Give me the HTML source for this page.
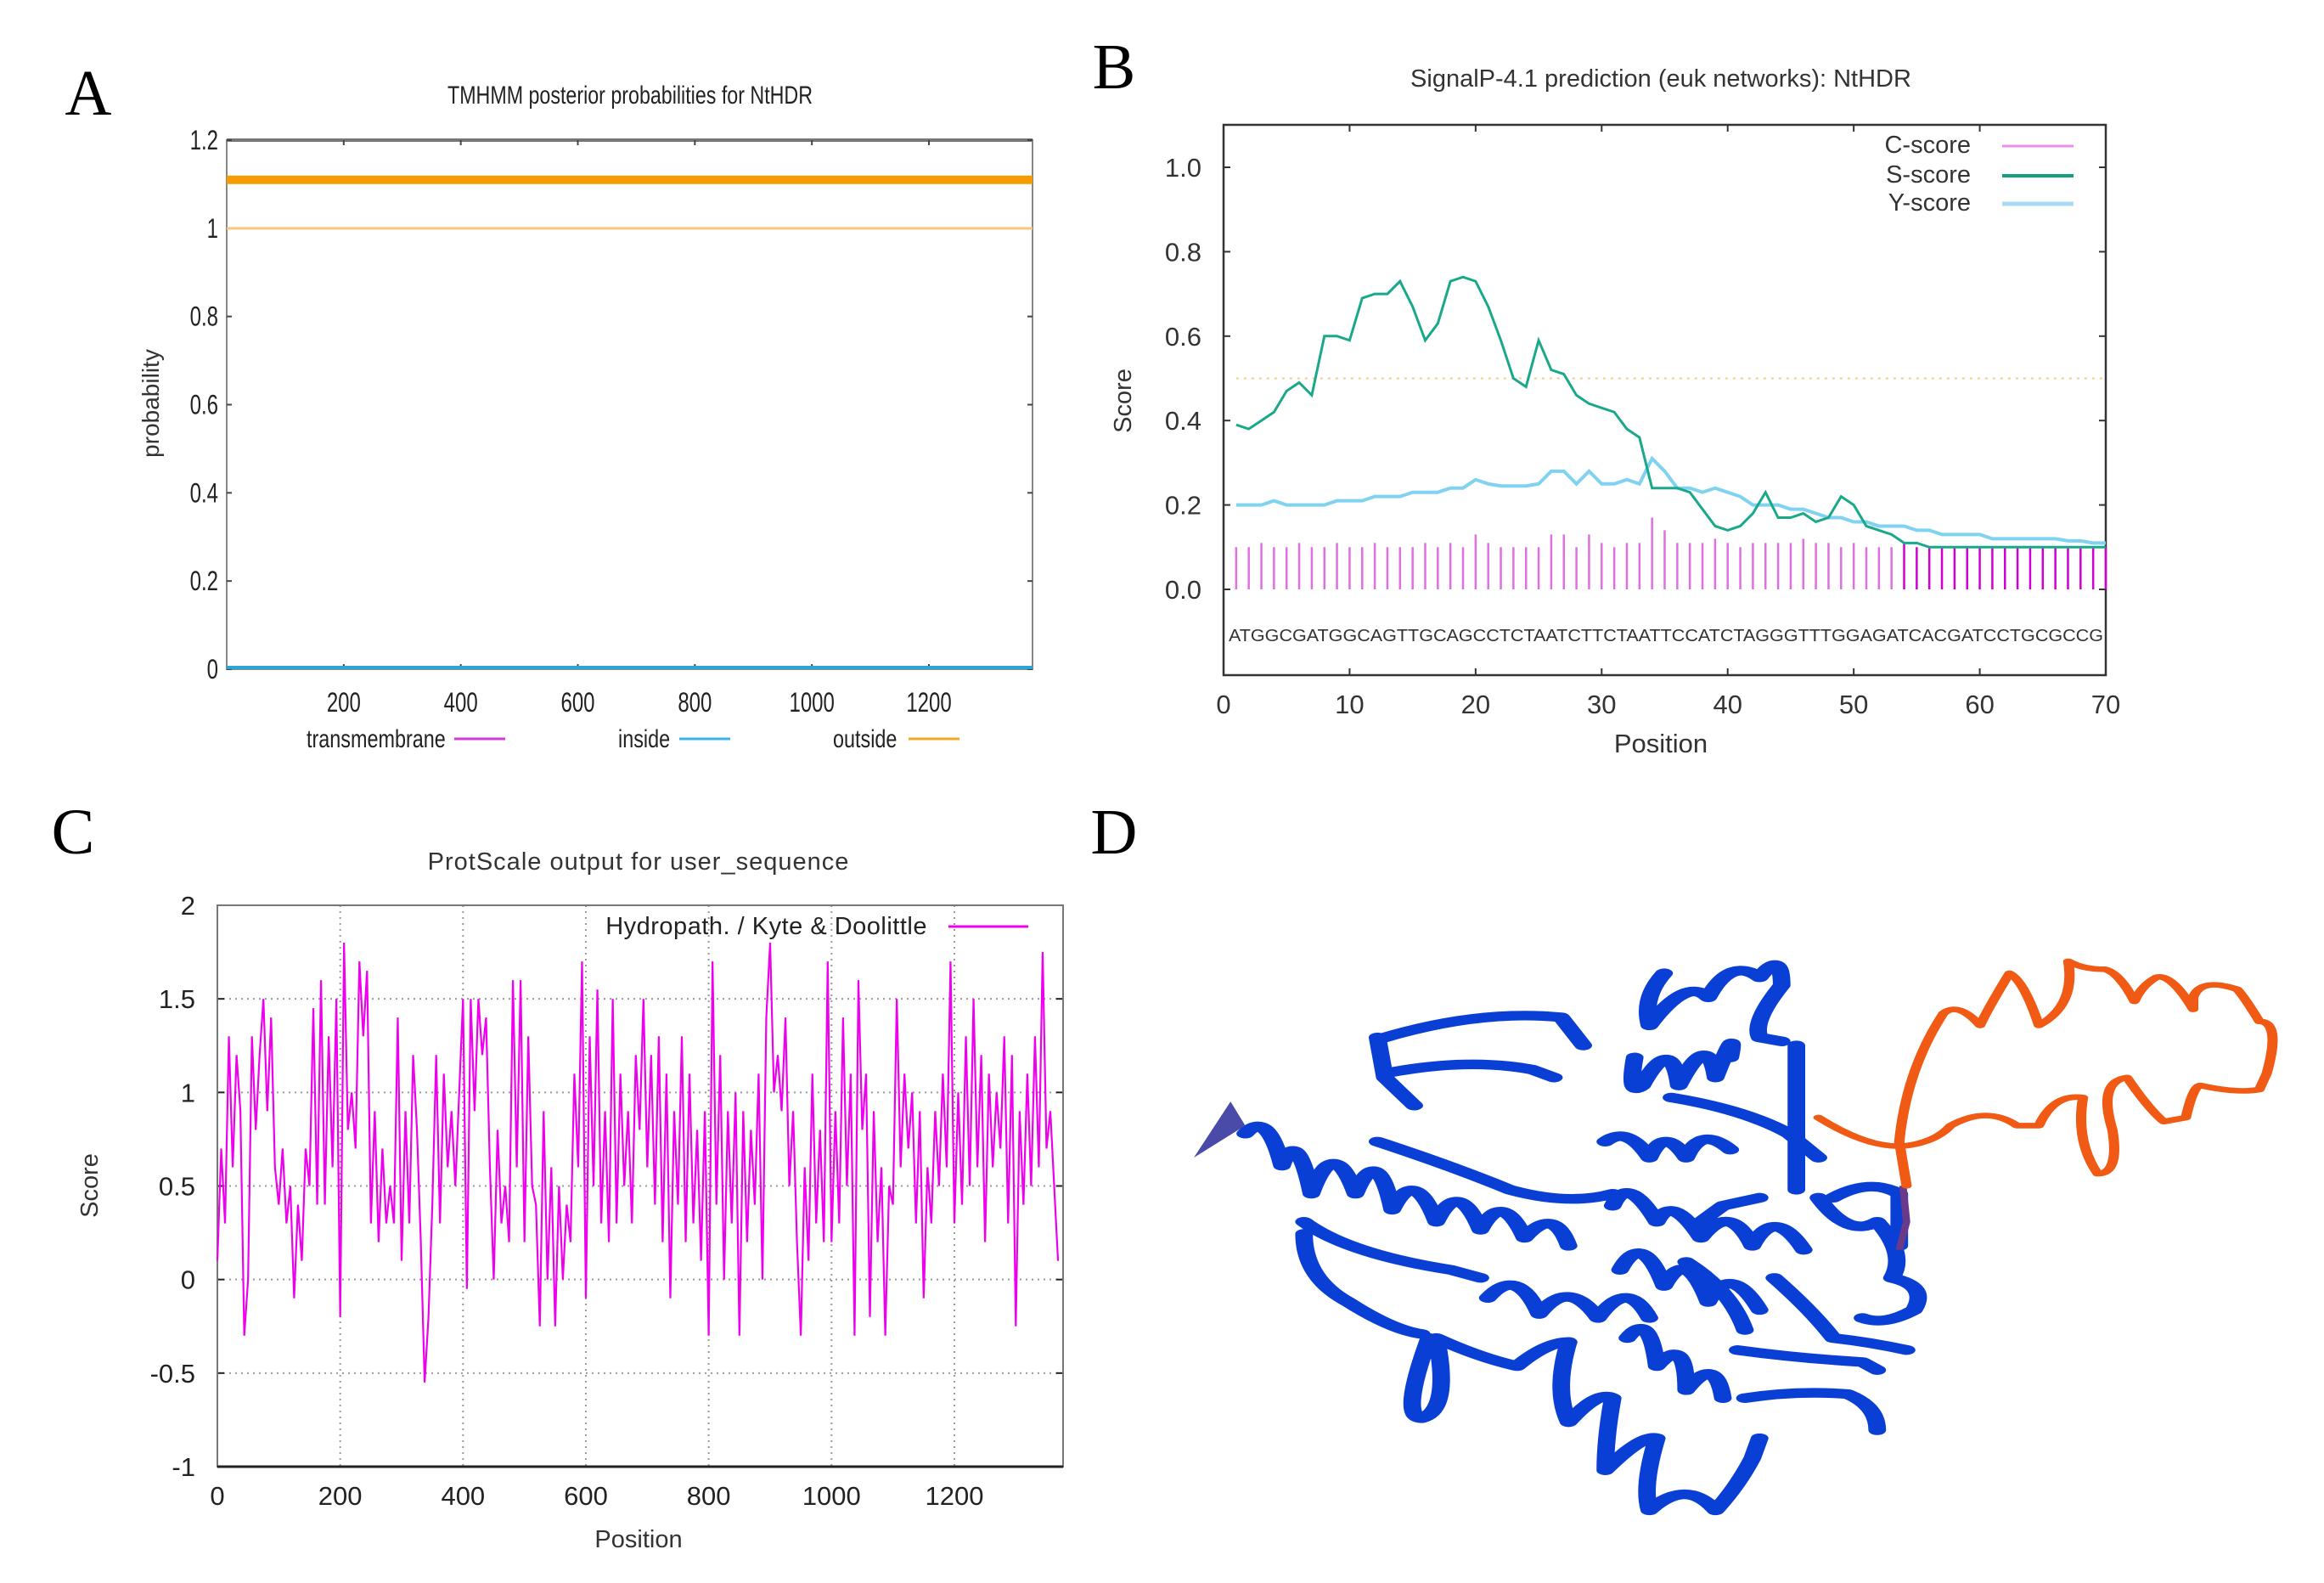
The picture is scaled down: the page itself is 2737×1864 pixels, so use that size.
<!DOCTYPE html>
<html><head><meta charset="utf-8"><style>
html,body{margin:0;padding:0;background:#fff}
svg{display:block}
text{font-family:"Liberation Sans",sans-serif}
</style></head><body>
<svg id="fig" width="2737" height="1864" viewBox="0 0 2737 1864" xmlns="http://www.w3.org/2000/svg">
<rect width="2737" height="1864" fill="#fff"/>
<text x="104" y="135" font-size="76" text-anchor="middle" style="font-family:'Liberation Serif',serif">A</text>
<text x="1312" y="104" font-size="76" text-anchor="middle" style="font-family:'Liberation Serif',serif">B</text>
<text x="86" y="1005" font-size="76" text-anchor="middle" style="font-family:'Liberation Serif',serif">C</text>
<text x="1312" y="1005" font-size="76" text-anchor="middle" style="font-family:'Liberation Serif',serif">D</text>
<g id="pa"></g>
<g id="pb"></g>
<g id="pc"></g>
<svg x="1380" y="1080" width="1357" height="740" viewBox="0 0 1568 1568" preserveAspectRatio="none">
<g fill="none" stroke="#0a3fd6" stroke-width="24" stroke-linejoin="round" stroke-linecap="round">
<path d="M290,300 Q420,230 530,250 L560,320"/>
<path d="M290,390 Q400,350 490,380 L520,400"/>
<path d="M280,300 L290,400 L330,470"/>
<path d="M100,540 Q130,480 150,620 Q170,520 190,690 Q220,540 250,690 Q280,560 300,730 Q330,620 360,760 Q390,650 420,780 Q450,680 480,800 Q520,720 540,820"/>
<path d="M180,760 Q240,840 380,880 L420,900"/>
<path d="M180,790 Q180,900 240,960 Q300,1030 340,1040"/>
<path d="M280,560 Q380,620 460,680 Q540,720 600,690"/>
<path d="M350,1050 Q310,1250 340,1250 Q380,1230 360,1050 Q420,1100 470,1120 Q510,1060 540,1060"/>
<path d="M540,1060 Q520,1180 540,1260 Q580,1180 600,1200 Q590,1300 590,1380 Q640,1290 660,1300 Q640,1420 650,1480 Q700,1400 740,1480 Q770,1420 790,1350 L800,1300"/>
<path d="M630,350 Q620,450 640,420 Q680,290 690,420 Q730,280 740,400 Q770,260 760,350"/>
<path d="M670,140 Q640,200 650,270 Q700,150 730,200 Q760,100 800,150 Q830,80 830,170 Q790,260 800,300 L830,310"/>
<path d="M850,320 L850,680"/>
<path d="M680,450 Q780,480 840,540 L880,600"/>
<path d="M590,560 Q620,520 650,600 Q670,520 700,600 Q720,520 760,580"/>
<path d="M600,720 Q620,640 660,760 Q680,690 720,800 Q760,710 790,820 Q820,720 860,830"/>
<path d="M610,880 Q640,780 670,920 Q700,820 730,960 Q760,860 800,980"/>
<path d="M430,950 Q470,870 500,990 Q540,900 580,1000 Q620,900 650,1000"/>
<path d="M620,1050 Q650,980 660,1120 Q700,1040 700,1180 Q740,1090 750,1200"/>
<path d="M770,1080 Q850,1100 940,1110 L960,1130"/>
<path d="M780,1200 Q850,1180 920,1190 Q960,1220 960,1280"/>
<path d="M880,700 Q920,800 960,760 Q1000,840 980,900 Q1030,920 1010,980 Q970,1020 940,1000"/>
<path d="M900,700 Q950,650 990,690 L990,820"/>
<path d="M820,900 Q870,980 900,1050 Q950,1060 1000,1080"/>
<path d="M720,760 L750,720 L800,700"/>
<path d="M700,860 Q760,930 780,1030"/>
</g>
<path d="M30,600 L80,460 L100,520 Z" fill="#4a4aa8"/>
<path d="M995,670 L1000,760 L990,830" fill="none" stroke="#6a3a8a" stroke-width="10"/>
<g fill="none" stroke="#f05a14" stroke-width="14" stroke-linejoin="round" stroke-linecap="round">
<path d="M880,500 Q950,580 1000,570 Q1040,560 1060,520 Q1110,470 1150,520 L1180,520 Q1200,440 1240,450 Q1230,560 1260,640 Q1290,640 1280,530 Q1260,410 1300,400 Q1330,480 1350,510 L1380,500 Q1390,420 1400,420 Q1450,440 1480,430 L1490,390 Q1510,260 1480,260 Q1460,200 1450,180 Q1400,150 1390,200 L1390,230 Q1360,140 1340,150 Q1320,170 1310,210 Q1290,140 1270,130 Q1240,130 1220,110 Q1230,220 1180,270 Q1160,160 1140,140 Q1110,230 1100,270 Q1070,210 1050,240 Q1000,380 990,560 L1000,670"/>
</g>
</svg>
<script>
const aYTicks = [0, 0.2, 0.4, 0.6, 0.8, 1, 1.2];
const aYTickLabels = ["0", "0.2", "0.4", "0.6", "0.8", "1", "1.2"];
const aXTicks = [200, 400, 600, 800, 1000, 1200];
const aLegendNames = ["transmembrane", "inside", "outside"];
const aOutsideThick = 1.11;
const aOutsideProb = 1.0;
const aInsideProb = 0.0;
const bPositions = [1,2,3,4,5,6,7,8,9,10,11,12,13,14,15,16,17,18,19,20,21,22,23,24,25,26,27,28,29,30,31,32,33,34,35,36,37,38,39,40,41,42,43,44,45,46,47,48,49,50,51,52,53,54,55,56,57,58,59,60,61,62,63,64,65,66,67,68,69,70];
const bSScore = [0.39,0.38,0.40,0.42,0.47,0.49,0.46,0.60,0.60,0.59,0.69,0.70,0.70,0.73,0.67,0.59,0.63,0.73,0.74,0.73,0.67,0.59,0.50,0.48,0.59,0.52,0.51,0.46,0.44,0.43,0.42,0.38,0.36,0.24,0.24,0.24,0.23,0.19,0.15,0.14,0.15,0.18,0.23,0.17,0.17,0.18,0.16,0.17,0.22,0.20,0.15,0.14,0.13,0.11,0.11,0.10,0.10,0.10,0.10,0.10,0.10,0.10,0.10,0.10,0.10,0.10,0.10,0.10,0.10,0.10];
const bYScore = [0.20,0.20,0.20,0.21,0.20,0.20,0.20,0.20,0.21,0.21,0.21,0.22,0.22,0.22,0.23,0.23,0.23,0.24,0.24,0.26,0.25,0.245,0.245,0.245,0.25,0.28,0.28,0.25,0.28,0.25,0.25,0.26,0.25,0.31,0.28,0.24,0.24,0.23,0.24,0.23,0.22,0.20,0.20,0.20,0.19,0.19,0.18,0.17,0.17,0.16,0.16,0.15,0.15,0.15,0.14,0.14,0.13,0.13,0.13,0.13,0.12,0.12,0.12,0.12,0.12,0.12,0.115,0.115,0.11,0.11];
const bCScore = [0.10,0.10,0.11,0.10,0.10,0.11,0.10,0.10,0.11,0.10,0.10,0.11,0.10,0.10,0.10,0.11,0.10,0.11,0.10,0.13,0.11,0.10,0.10,0.10,0.10,0.13,0.13,0.10,0.13,0.11,0.10,0.11,0.11,0.17,0.14,0.11,0.11,0.11,0.12,0.11,0.10,0.11,0.11,0.11,0.11,0.12,0.11,0.11,0.10,0.11,0.10,0.10,0.10,0.11,0.10,0.10,0.10,0.10,0.10,0.10,0.10,0.10,0.10,0.10,0.10,0.10,0.10,0.10,0.10,0.10];
const bYTicks = [0.0, 0.2, 0.4, 0.6, 0.8, 1.0];
const bYTickLabels = ["0.0", "0.2", "0.4", "0.6", "0.8", "1.0"];
const bXTicks = [0, 10, 20, 30, 40, 50, 60, 70];
const bLegendNames = ["C-score", "S-score", "Y-score"];
const bThreshold = 0.5;
const bSequence = "ATGGCGATGGCAGTTGCAGCCTCTAATCTTCTAATTCCATCTAGGGTTTGGAGATCACGATCCTGCGCCG";
const cStep = 6.25;
const cScores = [
0.1,0.7,0.3,1.3,0.6,1.2,0.9,-0.3,
0.0,1.3,0.8,1.2,1.5,0.9,1.4,0.6,
0.4,0.7,0.3,0.5,-0.1,0.4,0.1,0.7,
0.5,1.45,0.4,1.6,0.4,1.3,0.6,1.5,
-0.2,1.8,0.8,1.0,0.7,1.7,1.3,1.65,
0.3,0.9,0.2,0.7,0.3,0.5,0.3,1.4,
0.1,0.9,0.3,1.2,0.8,0.2,-0.55,-0.2,
0.4,1.2,0.3,1.1,0.6,0.9,0.5,1.0,
1.5,-0.05,1.5,0.9,1.5,1.2,1.4,0.6,
0.0,0.8,0.3,0.5,0.2,1.6,0.6,1.6,
0.2,1.3,0.5,0.4,-0.25,0.9,0.0,0.6,
-0.25,0.5,0.0,0.4,0.2,1.1,0.6,1.7,
-0.1,1.3,0.5,1.55,0.3,0.9,0.2,1.5,
0.3,1.1,0.5,0.9,0.3,1.2,0.8,1.5,
0.6,1.2,0.4,1.3,0.2,1.1,-0.1,0.9,
0.4,1.3,0.2,1.1,0.3,0.8,0.1,0.9,
-0.3,1.7,0.4,1.2,0.0,0.9,0.3,1.0,
-0.3,0.9,0.2,0.8,0.4,1.1,0.0,1.4,
1.8,1.0,1.2,0.9,1.4,0.5,0.9,0.2,
-0.3,0.6,0.1,1.1,0.3,0.8,0.2,1.7,
0.2,0.9,0.3,1.4,0.5,1.1,-0.3,1.6,
0.8,1.1,-0.2,0.9,0.2,0.6,-0.3,0.5,
0.4,1.5,0.6,1.1,0.7,1.0,0.3,0.9,
-0.1,0.6,0.3,0.9,0.5,1.1,0.6,1.7,
0.3,1.0,0.4,1.3,0.5,1.5,0.6,1.2,
0.2,1.1,0.6,1.0,0.7,1.3,0.3,1.2,
-0.25,0.9,0.4,1.1,0.5,1.3,0.6,1.75,
0.7,0.9,0.5,0.1];
const cYTicks = [-1, -0.5, 0, 0.5, 1, 1.5, 2];
const cYTickLabels = ["-1", "-0.5", "0", "0.5", "1", "1.5", "2"];
const cXTicks = [0, 200, 400, 600, 800, 1000, 1200];
const cLegendName = "Hydropath. / Kyte & Doolittle";

const NS = "http://www.w3.org/2000/svg";
function mk(parent, tag, attrs, txt) {
  const e = document.createElementNS(NS, tag);
  for (const k in attrs) e.setAttribute(k, attrs[k]);
  if (txt !== undefined) e.textContent = txt;
  parent.appendChild(e);
  return e;
}

(function () {
  const g = document.getElementById('pa');
  const L = 267, R = 1216, T = 165, B = 788, xMax = 1377, yMax = 1.2;
  const xs = v => L + (v / xMax) * (R - L);
  const ys = v => B - (v / yMax) * (B - T);
  let t = mk(g, 'text', {x: 742, y: 122, 'font-size': 30, 'text-anchor': 'middle', fill: '#222', textLength: 430, lengthAdjust: 'spacingAndGlyphs'}, 'TMHMM posterior probabilities for NtHDR');
  
  
  let fr = mk(g, 'rect', {x: L, y: T, width: R - L, height: B - T, fill: 'none', stroke: '#888', 'stroke-width': 2});
  
  
  mk(g, 'line', {x1: L, x2: R, y1: T, y2: T, stroke: '#777', 'stroke-width': 4});
  aYTicks.forEach((v, i) => {
    mk(g, 'line', {x1: L, x2: L + 6, y1: ys(v), y2: ys(v), stroke: '#444', 'stroke-width': 2});
    mk(g, 'line', {x1: R, x2: R - 6, y1: ys(v), y2: ys(v), stroke: '#444', 'stroke-width': 2});
    const tl = mk(g, 'text', {x: L - 10, y: ys(v) + 11, 'font-size': 32, 'text-anchor': 'end', fill: '#222', transform: `translate(${(L-10)*0.25} 0) scale(0.75 1)`}, aYTickLabels[i]);
    
    
  });
  aXTicks.forEach(v => {
    mk(g, 'line', {x1: xs(v), x2: xs(v), y1: B, y2: B - 6, stroke: '#444', 'stroke-width': 2});
    mk(g, 'line', {x1: xs(v), x2: xs(v), y1: T, y2: T + 6, stroke: '#444', 'stroke-width': 2});
    const tl = mk(g, 'text', {x: xs(v), y: 838, 'font-size': 32, 'text-anchor': 'middle', fill: '#222', transform: `translate(${xs(v)*0.25} 0) scale(0.75 1)`}, String(v));
    
    
  });
  const yl = mk(g, 'text', {x: 0, y: 0, 'font-size': 28, 'text-anchor': 'middle', fill: '#333', transform: 'translate(187 475) rotate(-90)'}, 'probability');
  
  
  let l1 = mk(g, 'line', {x1: L, x2: R, y1: ys(aOutsideThick), y2: ys(aOutsideThick), stroke: '#f59c00', 'stroke-width': 10});
  
  
  let l2 = mk(g, 'line', {x1: L, x2: R, y1: ys(aOutsideProb), y2: ys(aOutsideProb), stroke: '#f9c77a', 'stroke-width': 3});
  
  
  let l3 = mk(g, 'line', {x1: L, x2: R, y1: ys(aInsideProb) - 2, y2: ys(aInsideProb) - 2, stroke: '#2aa6d6', 'stroke-width': 4});
  
  
  const legX = [[361, 535], [728, 800], [981, 1070]];
  const legC = ['#d63ad6', '#3ab4e6', '#f5a623'];
  aLegendNames.forEach((n, i) => {
    const lt = mk(g, 'text', {x: legX[i][0], y: 880, 'font-size': 30, fill: '#222', transform: `translate(${legX[i][0]*0.22} 0) scale(0.78 1)`}, n);
    
    
    mk(g, 'line', {x1: legX[i][1], x2: legX[i][1] + 60, y1: 870, y2: 870, stroke: legC[i], 'stroke-width': 3});
  });
})();

(function () {
  const g = document.getElementById('pb');
  const L = 1441, R = 2480, T = 147, B = 795, xMax = 70;
  const y0 = 694, y1 = 197;
  const xs = v => L + (v / xMax) * (R - L);
  const ys = v => y0 - v * (y0 - y1);
  const t = mk(g, 'text', {x: 1956, y: 102, 'font-size': 29, 'text-anchor': 'middle', fill: '#333'}, 'SignalP-4.1 prediction (euk networks): NtHDR');
  
  
  const fr = mk(g, 'rect', {x: L, y: T, width: R - L, height: B - T, fill: 'none', stroke: '#333', 'stroke-width': 2.5});
  
  
  bYTicks.forEach((v, i) => {
    mk(g, 'line', {x1: L, x2: L + 8, y1: ys(v), y2: ys(v), stroke: '#333', 'stroke-width': 2});
    mk(g, 'line', {x1: R, x2: R - 8, y1: ys(v), y2: ys(v), stroke: '#333', 'stroke-width': 2});
    const tl = mk(g, 'text', {x: 1415, y: ys(v) + 11, 'font-size': 31, 'text-anchor': 'end', fill: '#333'}, bYTickLabels[i]);
    
    
  });
  bXTicks.forEach(v => {
    mk(g, 'line', {x1: xs(v), x2: xs(v), y1: B, y2: B - 8, stroke: '#333', 'stroke-width': 2});
    mk(g, 'line', {x1: xs(v), x2: xs(v), y1: T, y2: T + 8, stroke: '#333', 'stroke-width': 2});
    const tl = mk(g, 'text', {x: xs(v), y: 840, 'font-size': 31, 'text-anchor': 'middle', fill: '#333'}, String(v));
    
    
  });
  const xt = mk(g, 'text', {x: 1956, y: 886, 'font-size': 31, 'text-anchor': 'middle', fill: '#333'}, 'Position');
  
  
  const yt = mk(g, 'text', {x: 0, y: 0, 'font-size': 29, 'text-anchor': 'middle', fill: '#333', transform: 'translate(1332 472) rotate(-90)'}, 'Score');
  
  
  const th = mk(g, 'line', {x1: xs(1), x2: R, y1: ys(bThreshold), y2: ys(bThreshold), stroke: '#f5c98a', 'stroke-width': 2, 'stroke-dasharray': '3 6'});
  
  
  bPositions.forEach((p, i) => {
    const b = mk(g, 'line', {x1: xs(p), x2: xs(p), y1: ys(0), y2: ys(bCScore[i]), stroke: p > 53 ? '#d000d0' : '#e070e0', 'stroke-width': 2.5});
    
    
  });
  const ptsY = bPositions.map((p, i) => xs(p) + ',' + ys(bYScore[i])).join(' ');
  const py = mk(g, 'polyline', {points: ptsY, fill: 'none', stroke: '#7fd3f0', 'stroke-width': 4});
  
  
  const ptsS = bPositions.map((p, i) => xs(p) + ',' + ys(bSScore[i])).join(' ');
  const ps = mk(g, 'polyline', {points: ptsS, fill: 'none', stroke: '#1aa88a', 'stroke-width': 3});
  
  
  const sq = mk(g, 'text', {x: 1447, y: 755, 'font-size': 20, fill: '#333', textLength: 1030, lengthAdjust: 'spacingAndGlyphs'}, bSequence);
  
  
  const legC = ['#e890e8', '#12a07e', '#a8dcf4'];
  const legW = [3, 4, 5];
  const legY = [170, 205, 238];
  bLegendNames.forEach((n, i) => {
    const lt = mk(g, 'text', {x: 2321, y: legY[i] + 10, 'font-size': 29, 'text-anchor': 'end', fill: '#333'}, n);
    
    
    mk(g, 'line', {x1: 2358, x2: 2442, y1: legY[i] + 2, y2: legY[i] + 2, stroke: legC[i], 'stroke-width': legW[i]});
  });
})();

(function () {
  const g = document.getElementById('pc');
  const L = 256, R = 1252, T = 1066, B = 1727, xMax = 1377, yMin = -1, yMax = 2;
  const xs = v => L + (v / xMax) * (R - L);
  const ys = v => B - ((v - yMin) / (yMax - yMin)) * (B - T);
  const t = mk(g, 'text', {x: 752, y: 1024, 'font-size': 29, 'text-anchor': 'middle', fill: '#333', 'letter-spacing': 1}, 'ProtScale output for user_sequence');
  
  
  cYTicks.forEach((v, i) => {
    if (v > yMin && v < yMax) mk(g, 'line', {x1: L, x2: R, y1: ys(v), y2: ys(v), stroke: '#999', 'stroke-width': 2, 'stroke-dasharray': '2 5'});
    mk(g, 'line', {x1: L, x2: L + 8, y1: ys(v), y2: ys(v), stroke: '#222', 'stroke-width': 2});
    mk(g, 'line', {x1: R, x2: R - 8, y1: ys(v), y2: ys(v), stroke: '#222', 'stroke-width': 2});
    const tl = mk(g, 'text', {x: 230, y: ys(v) + 11, 'font-size': 31, 'text-anchor': 'end', fill: '#222'}, cYTickLabels[i]);
    
    
  });
  cXTicks.forEach(v => {
    if (v > 0) mk(g, 'line', {x1: xs(v), x2: xs(v), y1: T, y2: B, stroke: '#999', 'stroke-width': 2, 'stroke-dasharray': '2 5'});
    const tl = mk(g, 'text', {x: xs(v), y: 1772, 'font-size': 31, 'text-anchor': 'middle', fill: '#222'}, String(v));
    
    
  });
  const fr = mk(g, 'rect', {x: L, y: T, width: R - L, height: B - T, fill: 'none', stroke: '#777', 'stroke-width': 2});
  
  
  mk(g, 'line', {x1: L, x2: R, y1: B, y2: B, stroke: '#222', 'stroke-width': 3});
  const xt = mk(g, 'text', {x: 752, y: 1822, 'font-size': 29, 'text-anchor': 'middle', fill: '#333'}, 'Position');
  
  
  const yt = mk(g, 'text', {x: 0, y: 0, 'font-size': 29, 'text-anchor': 'middle', fill: '#333', transform: 'translate(115 1396) rotate(-90)'}, 'Score');
  
  
  const pts = cScores.map((v, i) => xs(i * cStep) + ',' + ys(v)).join(' ');
  const pl = mk(g, 'polyline', {points: pts, fill: 'none', stroke: '#ee00ee', 'stroke-width': 2.2, 'stroke-linejoin': 'miter'});
  
  
  const lt = mk(g, 'text', {x: 1092, y: 1100, 'font-size': 29, 'text-anchor': 'end', fill: '#222', 'letter-spacing': 0.5}, cLegendName);
  
  
  mk(g, 'line', {x1: 1117, x2: 1211, y1: 1091, y2: 1091, stroke: '#ee00ee', 'stroke-width': 3});
})();
</script>
</svg>
</body></html>
